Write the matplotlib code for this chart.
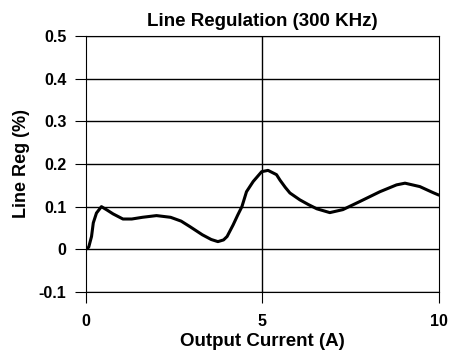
import matplotlib
matplotlib.use("Agg")
import matplotlib.pyplot as plt

current = [0.0, 0.08, 0.16, 0.21, 0.3, 0.44, 0.6, 0.77, 1.05, 1.3, 1.6, 2.0, 2.4, 2.7, 2.95,
           3.3, 3.55, 3.74, 3.9, 4.0, 4.17, 4.3, 4.42, 4.55, 4.74, 4.98, 5.16, 5.4, 5.5, 5.65,
           5.78, 6.06, 6.3, 6.54, 6.91, 7.28, 7.76, 8.33, 8.8, 9.04, 9.46, 9.83, 10.0]
line_reg = [0.0, 0.005, 0.03, 0.062, 0.085, 0.1, 0.092, 0.083, 0.071, 0.071, 0.075, 0.079,
            0.075, 0.066, 0.053, 0.034, 0.023, 0.018, 0.022, 0.03, 0.057, 0.08, 0.1, 0.135,
            0.159, 0.182, 0.185, 0.175, 0.162, 0.145, 0.132, 0.116, 0.105, 0.095, 0.086,
            0.093, 0.112, 0.135, 0.151, 0.155, 0.147, 0.133, 0.127]

xticks = [0, 5, 10]
yticks = [-0.1, 0, 0.1, 0.2, 0.3, 0.4, 0.5]
ytick_labels = ["-0.1", "0", "0.1", "0.2", "0.3", "0.4", "0.5"]

plt.rcParams['font.family'] = ['Liberation Sans', 'DejaVu Sans']

fig = plt.figure(figsize=(4.52, 3.6), dpi=100)
ax = fig.add_axes([0.190, 0.189, 0.781, 0.711])
ax.plot(current, line_reg, color='black', lw=2.2, solid_capstyle='round', solid_joinstyle='round')
ax.set_xlim(0, 10)
ax.set_ylim(-0.1, 0.5)
ax.set_xticks(xticks)
ax.set_yticks(yticks)
ax.set_yticklabels(ytick_labels)
for y in yticks:
    ax.axhline(y, color='black', lw=1.0, zorder=0)
ax.axvline(5, color='black', lw=1.0, zorder=0)
for s in ax.spines.values():
    s.set_linewidth(0.8)
    s.set_color('black')
ax.tick_params(axis='both', direction='out', length=8, width=0.8, labelsize=11.5, pad=6)
ax.tick_params(axis='x', pad=8)
for lbl in ax.get_xticklabels() + ax.get_yticklabels():
    lbl.set_fontweight('semibold')
ax.set_title("Line Regulation (300 KHz)", fontsize=13.5, fontweight='bold', pad=7)
ax.set_xlabel("Output Current (A)", fontsize=13.5, fontweight='bold', labelpad=3)
ax.set_ylabel("Line Reg (%)", fontsize=13, fontweight='bold', labelpad=6)
fig.savefig("out.png", dpi=100)
